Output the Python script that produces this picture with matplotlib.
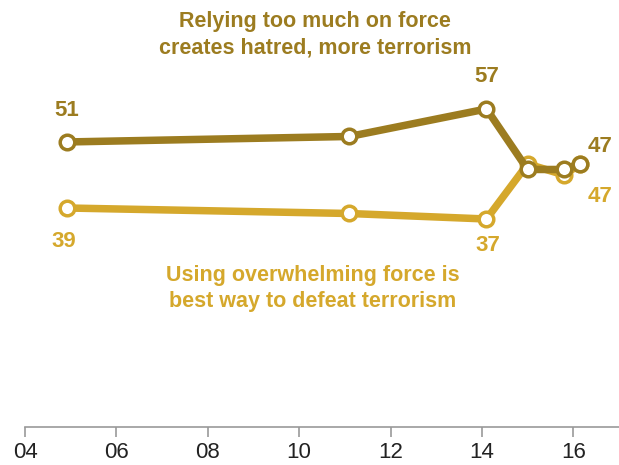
import matplotlib.pyplot as plt

# survey dates (as decimal years) and percentages
years_force = [2004.92, 2011.1, 2014.1, 2015.0, 2015.8, 2016.15]
too_much_force = [51, 52, 57, 46, 46, 47]

years_overwhelm = [2004.92, 2011.1, 2014.1, 2015.0, 2015.8, 2016.15]
overwhelming = [39, 38, 37, 47, 45, 47]

tick_years = [2004, 2006, 2008, 2010, 2012, 2014, 2016]
tick_labels = ["04", "06", "08", "10", "12", "14", "16"]

dark = "#9C7C20"
light = "#D5A82C"

plt.rcParams["font.family"] = ["Liberation Sans", "DejaVu Sans"]

fig = plt.figure(figsize=(6.19, 4.65), dpi=100)
ax = fig.add_axes([25 / 619, 38 / 465, 1 - 25 / 619, 1 - 38 / 465])

ax.plot(years_overwhelm, overwhelming, color=light, linewidth=5.4,
        marker="o", markersize=10.5, markerfacecolor="white",
        markeredgecolor=light, markeredgewidth=2.5, zorder=2)
ax.plot(years_force, too_much_force, color=dark, linewidth=5.4,
        marker="o", markersize=10.5, markerfacecolor="white",
        markeredgecolor=dark, markeredgewidth=2.5, zorder=3)

ax.set_xlim(2004, 2017)
ax.set_ylim(-0.8, 76.8)

# value labels
lab = dict(fontsize=16, fontweight="bold", ha="center", va="center")
ax.text(years_force[0], too_much_force[0] + 5.8, str(too_much_force[0]), color=dark, **lab)
ax.text(years_force[2], too_much_force[2] + 5.9, str(too_much_force[2]), color=dark, **lab)
ax.text(years_force[-1] + 0.43, too_much_force[-1] + 3.2, str(too_much_force[-1]), color=dark, **lab)
ax.text(years_overwhelm[0] - 0.08, overwhelming[0] - 6.0, str(overwhelming[0]), color=light, **lab)
ax.text(years_overwhelm[2] + 0.02, overwhelming[2] - 4.9, str(overwhelming[2]), color=light, **lab)
ax.text(years_overwhelm[-1] + 0.43, overwhelming[-1] - 6.0, str(overwhelming[-1]), color=light, **lab)

# series titles
ax.text(2010.35, 70.5, "Relying too much on force\ncreates hatred, more terrorism",
        color=dark, fontsize=15.5, fontweight="bold", ha="center", va="center",
        linespacing=1.3)
ax.text(2010.3, 24.3, "Using overwhelming force is\nbest way to defeat terrorism",
        color=light, fontsize=15.5, fontweight="bold", ha="center", va="center",
        linespacing=1.3)

ax.set_xticks(tick_years)
ax.set_xticklabels(tick_labels, fontsize=16, color="#222222")
ax.set_yticks([])
for side in ["top", "right", "left"]:
    ax.spines[side].set_visible(False)
ax.spines["bottom"].set_color("#999999")
ax.spines["bottom"].set_linewidth(1.2)
ax.tick_params(axis="x", length=7, width=1.2, color="#999999", pad=4)
ax.patch.set_alpha(0)

fig.savefig("out.png", dpi=100)
